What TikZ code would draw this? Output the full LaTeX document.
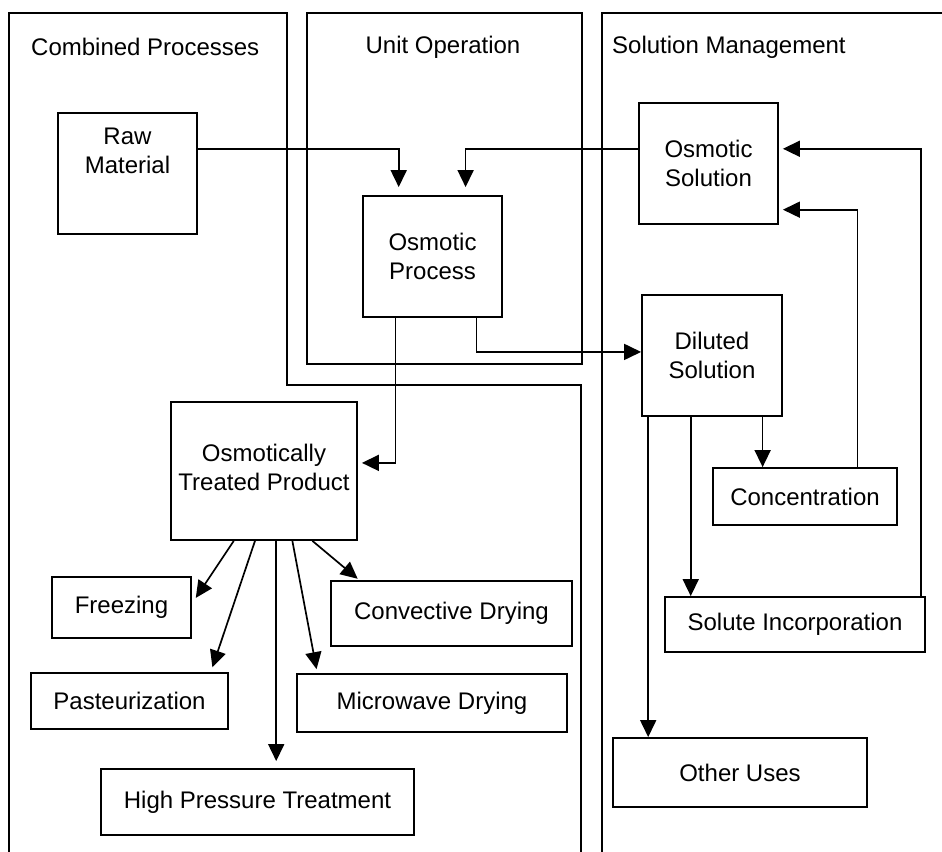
\documentclass[tikz,border=0pt]{standalone}
\usepackage{fontspec}
\setmainfont{Liberation Sans}
\usetikzlibrary{calc,arrows.meta}
\tikzset{
  box/.style={draw=black, line width=1.8bp, inner sep=0pt, align=center, font=\fontsize{24bp}{29bp}\selectfont},
  panel/.style={draw=black, line width=2bp},
  ptitle/.style={font=\fontsize{24bp}{29bp}\selectfont, inner sep=0pt},
  txt/.style={align=center, inner sep=0pt, font=\fontsize{24bp}{29bp}\selectfont},
  arr/.style={draw=black, line width=1.7bp, -{Triangle[length=17bp,width=16bp]}},
  ln/.style={draw=black, line width=1.7bp}
}
\begin{document}
\begin{tikzpicture}[x=1bp,y=-1bp]
\useasboundingbox (0,0) rectangle (942,852);
% panels
\draw[panel] (9,860) -- (9,13) -- (287,13) -- (287,385) -- (581,385) -- (581,860);
\draw[panel] (307,13) rectangle (582,364);
\draw[panel] (950,13) -- (602,13) -- (602,860);
\node[ptitle, anchor=west] (t1) at (31,47) {Combined Processes};
\node[ptitle] (t2) at (443,47) {Unit Operation};
\node[ptitle, anchor=west] (t3) at (612,47) {Solution Management};
% boxes
\node[box, minimum width=139bp, minimum height=121bp] (raw) at (127.5,173.5) {};
\node[txt] (rawt) at (127.5,151) {Raw\\Material};
\node[box, minimum width=139bp, minimum height=121bp] (osmp) at (432.5,256.5) {Osmotic\\Process};
\node[box, minimum width=139bp, minimum height=121bp] (osms) at (708.5,163.5) {Osmotic\\Solution};
\node[box, minimum width=140bp, minimum height=121bp] (dil) at (712,355.5) {Diluted\\Solution};
\node[box, minimum width=184bp, minimum height=57bp] (conc) at (805,496.5) {Concentration};
\node[box, minimum width=260bp, minimum height=55bp] (solinc) at (795,624.5) {Solute Incorporation};
\node[box, minimum width=254bp, minimum height=69bp] (other) at (740,772.5) {Other Uses};
\node[box, minimum width=186bp, minimum height=138bp] (otp) at (264,471) {Osmotically\\Treated Product\\[-21bp]};
\node[box, minimum width=139bp, minimum height=61bp] (frz) at (121.5,607.5) {Freezing};
\node[box, minimum width=197bp, minimum height=56bp] (past) at (129.5,701) {Pasteurization};
\node[box, minimum width=313bp, minimum height=66bp] (hpt) at (257.5,802) {High Pressure Treatment};
\node[box, minimum width=241bp, minimum height=65bp] (conv) at (451.5,613.5) {Convective Drying};
\node[box, minimum width=270bp, minimum height=58bp] (micro) at (432,703) {Microwave Drying};
% connectors
\draw[arr, shorten >=8bp] ($(raw.north east)!0.3!(raw.south east)$) -| ($(osmp.north west)!0.26!(osmp.north east)$);
\draw[arr, shorten >=8bp] ($(osms.north west)!0.38!(osms.south west)$) -| ($(osmp.north west)!0.735!(osmp.north east)$);
\draw[arr, shorten >=4bp] ($(osmp.south west)!0.237!(osmp.south east)$) |- ($(otp.north east)!0.442!(otp.south east)$);
\draw[arr] ($(osmp.south west)!0.813!(osmp.south east)$) |- ($(dil.north west)!0.471!(dil.south west)$);
\draw[arr] ($(dil.south west)!0.05!(dil.south east)$) coordinate (d1) -- (d1 |- other.north);
\draw[arr] ($(dil.south west)!0.35!(dil.south east)$) coordinate (d2) -- (d2 |- solinc.north);
\draw[arr] ($(dil.south west)!0.857!(dil.south east)$) coordinate (d3) -- (d3 |- conc.north);
\draw[arr, shorten >=4bp] ($(conc.north west)!0.783!(conc.north east)$) |- ($(osms.north east)!0.876!(osms.south east)$);
\draw[arr, shorten >=4bp] ($(solinc.north west)!0.981!(solinc.north east)$) |- ($(osms.north east)!0.38!(osms.south east)$);
% fan from osmotically treated product
\draw[arr, shorten >=7bp] ($(otp.south west)!0.339!(otp.south east)$) -- ($(frz.north east)!0.44!(frz.south east)$);
\draw[arr, shorten >=5bp] ($(otp.south west)!0.452!(otp.south east)$) -- ($(past.north west)!0.909!(past.north east)$);
\draw[arr, shorten >=7bp] ($(otp.south west)!0.565!(otp.south east)$) coordinate (o3) -- (o3 |- hpt.north);
\draw[arr, shorten >=4bp] ($(otp.south west)!0.651!(otp.south east)$) -- ($(micro.north west)!0.078!(micro.north east)$);
\draw[arr, shorten >=2bp] ($(otp.south west)!0.758!(otp.south east)$) -- ($(conv.north west)!0.12!(conv.north east)$);
\end{tikzpicture}
\end{document}
